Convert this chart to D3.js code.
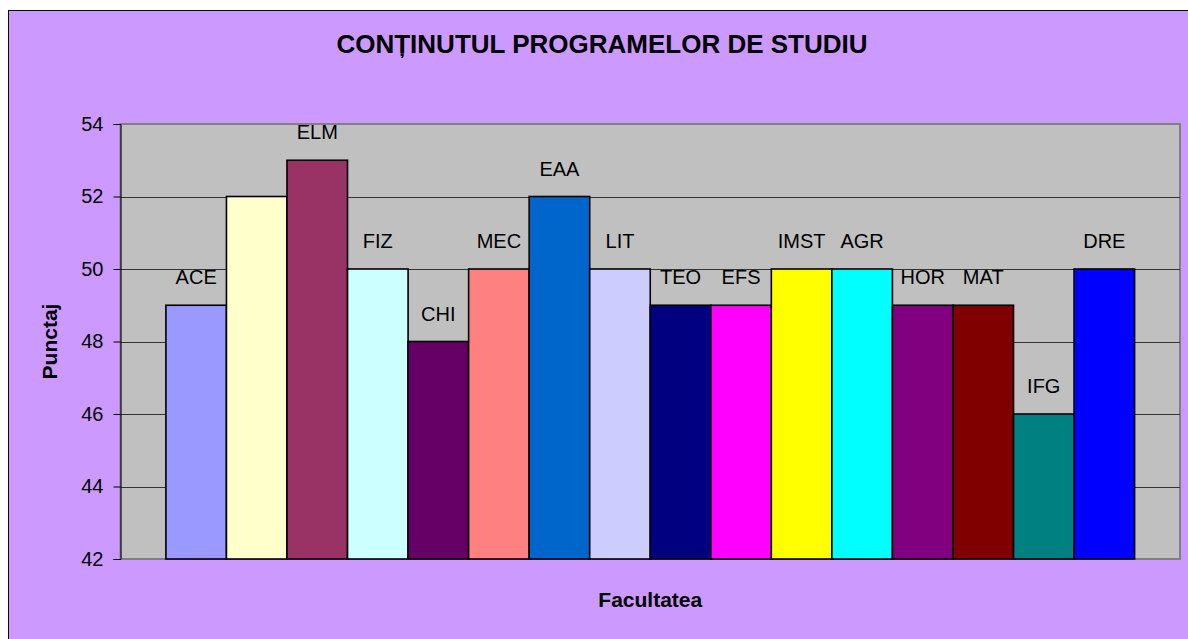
<!DOCTYPE html>
<html>
<head>
<meta charset="utf-8">
<script src="https://cdn.jsdelivr.net/npm/d3@7"></script>
<style>
  body { margin: 0; background: #fff; }
  text { font-family: "Liberation Sans", Arial, sans-serif; fill: #000; }
</style>
</head>
<body>
<div id="container"></div>
<script>
// faculty labels (second bar has no label in the original)
const labels = ["ACE", "", "ELM", "FIZ", "CHI", "MEC", "EAA", "LIT", "TEO", "EFS", "IMST", "AGR", "HOR", "MAT", "IFG", "DRE"];
const scores = [49, 52, 53, 50, 48, 50, 52, 50, 49, 49, 50, 50, 49, 49, 46, 50];
const colors = ["#9999FF", "#FFFFCC", "#993366", "#CCFFFF", "#660066", "#FF8080", "#0066CC", "#CCCCFF",
                "#000080", "#FF00FF", "#FFFF00", "#00FFFF", "#800080", "#800000", "#008080", "#0000FF"];
const yTicks = [42, 44, 46, 48, 50, 52, 54];

const width = 1188;
const height = 639;
const plot = {left: 120.5, right: 1180, top: 124, bottom: 559};

const svg = d3.select("#container")
  .append("svg")
  .attr("width", width)
  .attr("height", height);

// chart area (runs off the right and bottom of the picture)
svg.append("rect")
  .attr("x", 8.5).attr("y", 10.5)
  .attr("width", 1200).attr("height", 650)
  .attr("fill", "#CC99FF")
  .attr("stroke", "#000");

const x = d3.scaleBand()
  .domain(d3.range(labels.length))
  .range([plot.left, plot.right])
  .paddingInner(0)
  .paddingOuter(0.75);

const y = d3.scaleLinear()
  .domain([42, 54])
  .range([plot.bottom, plot.top]);

// plot area
svg.append("rect")
  .attr("x", plot.left).attr("y", plot.top)
  .attr("width", plot.right - plot.left)
  .attr("height", plot.bottom - plot.top)
  .attr("fill", "#C0C0C0")
  .attr("stroke", "#808080")
  .attr("stroke-width", 2);

// gridlines
svg.append("g")
  .selectAll("line")
  .data(yTicks.slice(1, -1))
  .join("line")
    .attr("x1", plot.left).attr("x2", plot.right)
    .attr("y1", d => Math.round(y(d)) + 0.5)
    .attr("y2", d => Math.round(y(d)) + 0.5)
    .attr("stroke", "#333");

// y axis
const yAxis = svg.append("g")
  .attr("transform", `translate(${plot.left},0)`)
  .call(d3.axisLeft(y).tickValues(yTicks).tickSize(7).tickPadding(10));
yAxis.select(".domain").attr("stroke", "#000");
yAxis.selectAll(".tick line").attr("stroke", "#000");
yAxis.selectAll(".tick text")
  .style("font-size", "20px")
  .style("font-family", "'Liberation Sans', Arial, sans-serif")
  .attr("fill", "#000");

// bars
svg.append("g")
  .selectAll("rect")
  .data(scores)
  .join("rect")
    .attr("x", (d, i) => x(i))
    .attr("y", d => y(d))
    .attr("width", x.bandwidth())
    .attr("height", d => y(42) - y(d))
    .attr("fill", (d, i) => colors[i])
    .attr("stroke", "#000")
    .attr("stroke-width", 1.6);

// data labels (series names)
svg.append("g")
  .selectAll("text")
  .data(scores)
  .join("text")
    .attr("x", (d, i) => x(i) + x.bandwidth() / 2)
    .attr("y", d => y(d) - 21)
    .attr("text-anchor", "middle")
    .style("font-size", "20px")
    .text((d, i) => labels[i]);

// titles
svg.append("text")
  .attr("x", 602)
  .attr("y", 53)
  .attr("text-anchor", "middle")
  .style("font-size", "26px")
  .style("font-weight", "bold")
  .text("CONȚINUTUL PROGRAMELOR DE STUDIU");

svg.append("text")
  .attr("transform", `translate(57,${(plot.top + plot.bottom) / 2}) rotate(-90)`)
  .attr("text-anchor", "middle")
  .style("font-size", "21px")
  .style("font-weight", "bold")
  .text("Punctaj");

svg.append("text")
  .attr("x", (plot.left + plot.right) / 2)
  .attr("y", 607)
  .attr("text-anchor", "middle")
  .style("font-size", "21px")
  .style("font-weight", "bold")
  .text("Facultatea");
</script>
</body>
</html>
